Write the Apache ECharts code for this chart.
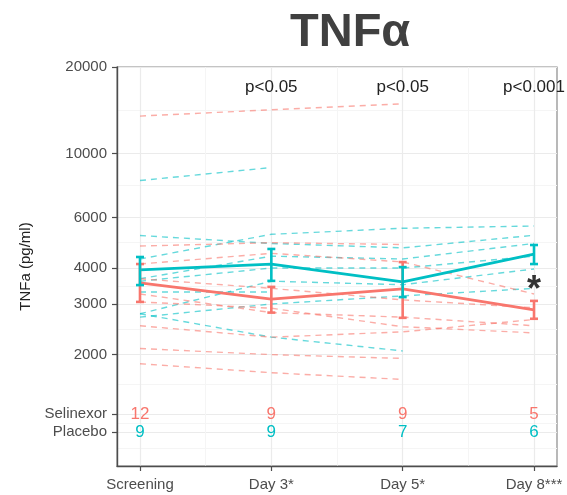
<!DOCTYPE html>
<html><head><meta charset="utf-8">
<script src="https://cdn.jsdelivr.net/npm/echarts@6/dist/echarts.min.js"></script>
<style>html,body{margin:0;padding:0;background:#fff}#c{width:567px;height:495px}</style>
</head><body><div id="c"></div>
<script>
// ---- data ----
const categories = ['Screening', 'Day 3*', 'Day 5*', 'Day 8***'];
const yTickValues = [20000, 10000, 6000, 4000, 3000, 2000];
const yTickLabels = ['20000', '10000', '6000', '4000', '3000', '2000'];
const groupNames = ['Selinexor', 'Placebo'];
const groupLabelValues = [1242, 1075];
const minorYValues = [14142, 7746, 4899, 3464, 2449, 1576, 1155, 946];
const minorXValues = [0.5, 1.5, 2.5];
const selinexorCounts = ['12', '9', '9', '5'];
const placeboCounts = ['9', '9', '7', '6'];
const pValueLabels = ['p<0.05', 'p<0.05', 'p<0.001'];
const pValueCats = [1, 2, 3];
const pValueY = 17000;
const starCat = 3;
const starY = 3574;

const selinexorMean = [3550, 3120, 3385, 2860];
const selinexorLow  = [3050, 2800, 2685, 2665];
const selinexorHigh = [4130, 3440, 4195, 3075];
const placeboMean = [3940, 4130, 3580, 4475];
const placeboLow  = [3490, 3610, 3170, 4130];
const placeboHigh = [4370, 4660, 4030, 4810];

// individual patients: values at [Screening, Day 3, Day 5, Day 8]
const selinexorPatients = [
  [13500, 14200, 14900, null],
  [4770, 4900, 4830, null],
  [4130, 4500, 4200, 3250],
  [3670, 3400, 3100, 2910],
  [3400, null, null, null],
  [3250, 2800, 2700, 2520],
  [3050, 2900, 2500, 2380],
  [2520, 2300, 2400, 2650],
  [2100, 2000, 1940, null],
  [1860, 1730, 1640, null],
  [2900, null, null, null],
  [3300, null, null, null]
];
const placeboPatients = [
  [8060, 8945, null, null],
  [5190, 4870, 4700, 5200],
  [4300, 5240, 5500, 5600],
  [3670, 4400, 4300, 4870],
  [3600, 4000, 4000, 4400],
  [2774, 3600, 3500, 3970],
  [2700, 3000, 3200, 3400],
  [2774, 2300, 2060, null],
  [3300, 3300, null, null]
];

// ---- chart ----
const RED = '#F8766D', TEAL = '#00BFC4';
const FONT = 'Liberation Sans, Arial, sans-serif';
const allYValues = yTickValues.concat(groupLabelValues);
const allYLabels = yTickLabels.concat(groupNames);
function yLabel(v) {
  let best = -1, bd = Infinity;
  allYValues.forEach((t, i) => { const d = Math.abs(Math.log(v / t)); if (d < bd) { bd = d; best = i; } });
  return bd < 0.02 ? allYLabels[best] : '';
}
function toPts(arr) {
  const out = [];
  arr.forEach((v, i) => { if (v != null) out.push([i, v]); });
  return out;
}
const series = [];
function patientSeries(list, color) {
  list.forEach(p => series.push({
    type: 'line', data: toPts(p), symbol: 'none', showSymbol: false, silent: true, z: 2,
    lineStyle: { color: color, width: 1.4, type: [6, 5], opacity: 0.6 }
  }));
}
patientSeries(placeboPatients, TEAL);
patientSeries(selinexorPatients, RED);

function meanSeries(mean, lo, hi, color) {
  series.push({
    type: 'line', data: mean.map((v, i) => [i, v]), symbol: 'none', silent: true, z: 4,
    lineStyle: { color: color, width: 2.8 }
  });
  series.push({
    type: 'custom', z: 5, silent: true,
    data: lo.map((v, i) => [i, v, hi[i]]),
    encode: { x: 0, y: [1, 2] },
    renderItem: function (params, api) {
      const x = api.value(0);
      const a = api.coord([x, api.value(1)]);
      const b = api.coord([x, api.value(2)]);
      const hw = 4;
      const st = { stroke: color, lineWidth: 2.6 };
      return { type: 'group', children: [
        { type: 'line', shape: { x1: a[0], y1: a[1], x2: b[0], y2: b[1] }, style: st },
        { type: 'line', shape: { x1: a[0] - hw, y1: a[1], x2: a[0] + hw, y2: a[1] }, style: st },
        { type: 'line', shape: { x1: b[0] - hw, y1: b[1], x2: b[0] + hw, y2: b[1] }, style: st }
      ]};
    }
  });
}
meanSeries(selinexorMean, selinexorLow, selinexorHigh, RED);
meanSeries(placeboMean, placeboLow, placeboHigh, TEAL);

function textSeries(points, labels, style) {
  series.push({
    type: 'scatter', symbolSize: 1, silent: true, z: 6,
    itemStyle: { color: 'rgba(0,0,0,0)', opacity: 1 },
    data: points.map((p, i) => ({ value: p, label: { formatter: labels[i] } })),
    label: Object.assign({ show: true, position: 'inside', fontFamily: FONT, opacity: 1 }, style)
  });
}
textSeries(selinexorCounts.map((c, i) => [i, groupLabelValues[0]]), selinexorCounts, { color: RED, fontSize: 17 });
textSeries(placeboCounts.map((c, i) => [i, groupLabelValues[1]]), placeboCounts, { color: TEAL, fontSize: 17 });
textSeries(pValueCats.map(c => [c, pValueY]), pValueLabels, { color: '#222', fontSize: 17 });
textSeries([[starCat, starY]], ['*'], { color: '#333', fontSize: 36, fontWeight: 'bold', offset: [0, 9] });

const axisCol = '#4d4d4d';
const option = {
  animation: false,
  backgroundColor: '#fff',
  title: {
    text: '{b|TNF}{a|α}', left: 285, top: 5,
    textStyle: { rich: {
      b: { fontSize: 47, fontWeight: 'bold', color: '#404040', fontFamily: FONT },
      a: { fontSize: 47, color: '#404040', fontFamily: FONT }
    } }
  },
  grid: { left: 117, right: 10, top: 67, bottom: 29, show: true, borderColor: '#8a8a8a', borderWidth: 1.2, backgroundColor: 'transparent' },
  xAxis: [{
    type: 'value', min: -0.175, max: 3.175,
    axisLine: { show: true, onZero: false, lineStyle: { color: axisCol, width: 1.4 } },
    axisTick: { show: true, length: 5, customValues: [0, 1, 2, 3], lineStyle: { color: axisCol, width: 1.2 } },
    axisLabel: { customValues: [0, 1, 2, 3], formatter: v => categories[Math.round(v)], color: axisCol, fontSize: 15, fontFamily: FONT, margin: 11 },
    splitLine: { show: true, lineStyle: { color: '#EBEBEB', width: 1.2 } }
  }, {
    type: 'value', min: -0.175, max: 3.175,
    axisLine: { show: false, onZero: false }, axisLabel: { show: false },
    axisTick: { show: false, customValues: minorXValues },
    splitLine: { show: true, lineStyle: { color: '#F5F5F5', width: 1 } }
  }],
  yAxis: [{
    type: 'log', logBase: 10, min: 820, max: 20000,
    name: 'TNFa (pg/ml)', nameLocation: 'middle', nameGap: 84, nameRotate: 90,
    nameTextStyle: { color: '#222', fontSize: 15, fontFamily: FONT },
    axisLine: { show: true, onZero: false, lineStyle: { color: axisCol, width: 1.4 } },
    axisTick: { show: true, length: 5, customValues: allYValues, lineStyle: { color: axisCol, width: 1.2 } },
    axisLabel: { customValues: allYValues, formatter: yLabel, color: axisCol, fontSize: 15, fontFamily: FONT, margin: 10 },
    splitLine: { show: true, lineStyle: { color: '#EBEBEB', width: 1.2 } },
    minorTick: { show: false }, minorSplitLine: { show: false }
  }, {
    type: 'log', logBase: 10, min: 820, max: 20000,
    axisLine: { show: false, onZero: false }, axisLabel: { show: false },
    axisTick: { show: false, customValues: minorYValues },
    splitLine: { show: true, lineStyle: { color: '#F5F5F5', width: 1 } }
  }],
  series: series
};
const chart = echarts.init(document.getElementById('c'), null, { renderer: 'canvas' });
chart.setOption(option);
</script>
</body></html>
